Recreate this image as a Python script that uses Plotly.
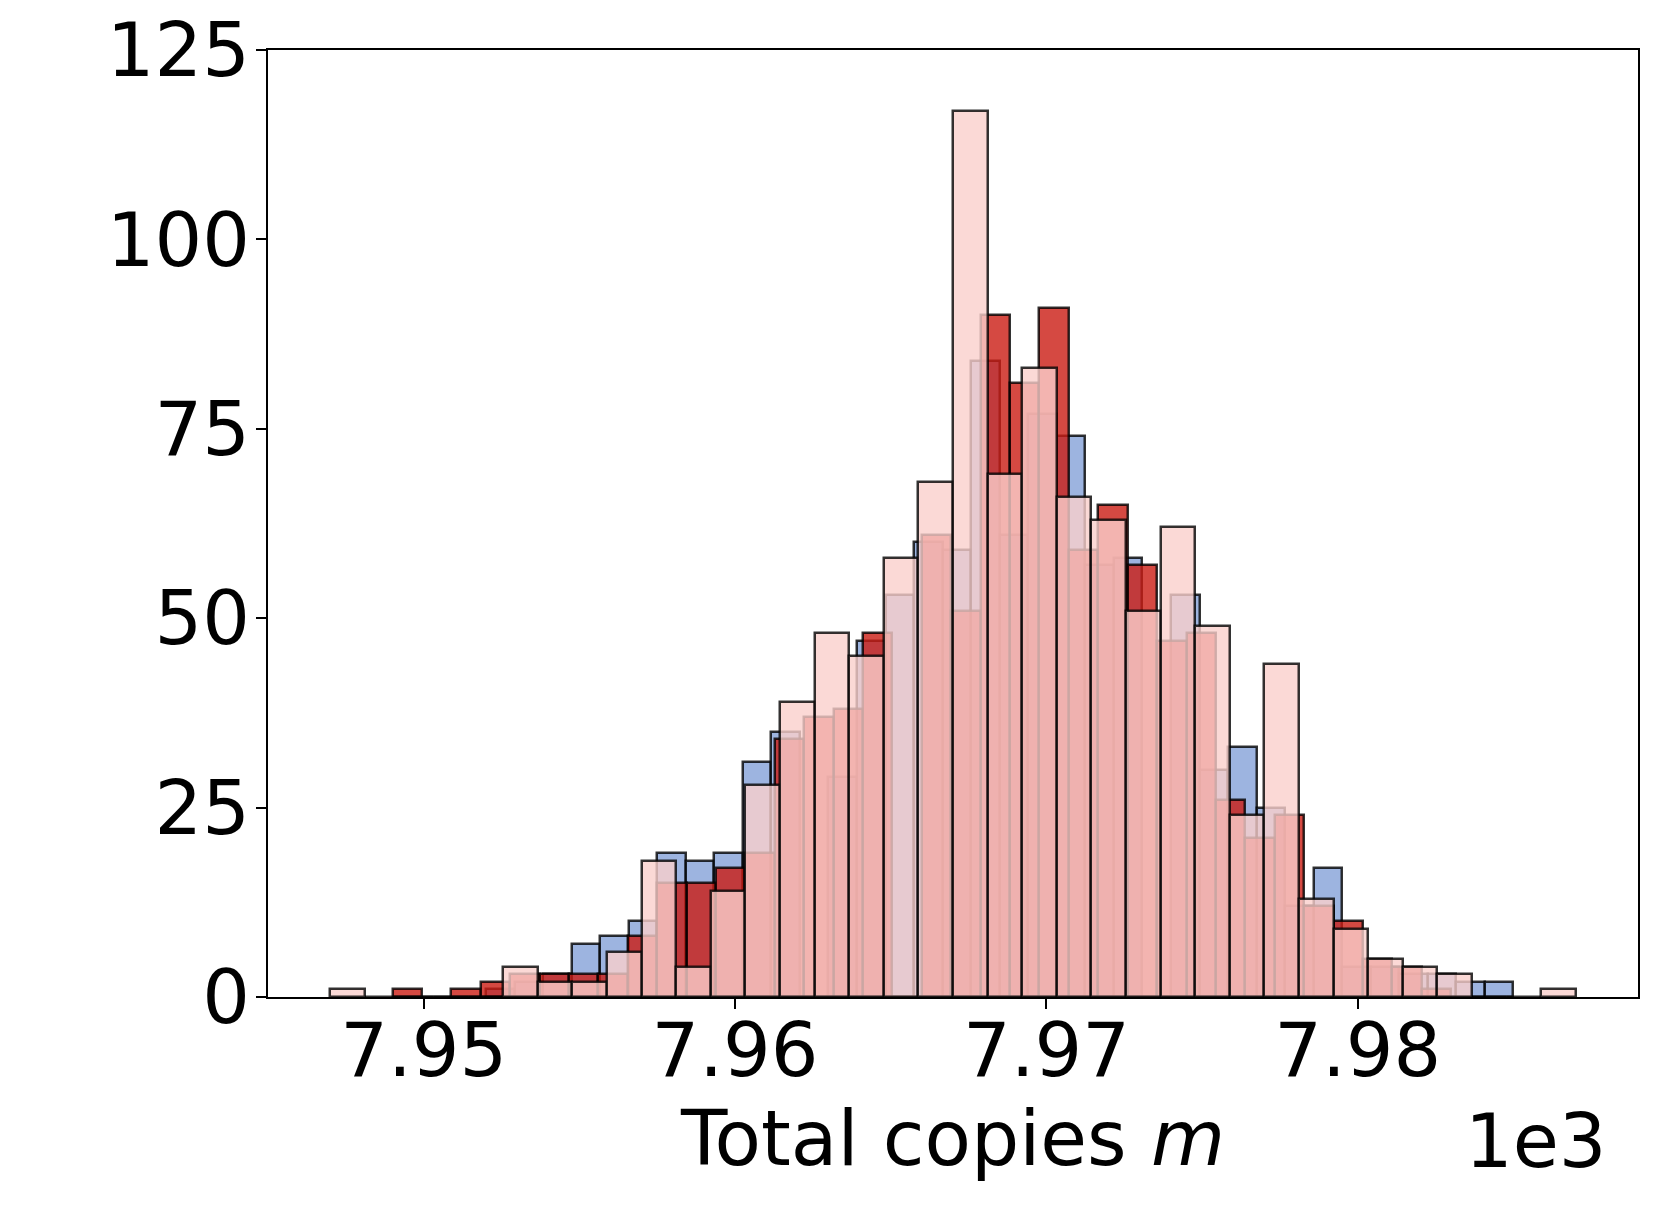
import numpy as np
import plotly.graph_objects as go

# three histograms, 36 bins each, every series over its own min..max
blue_range = (7952, 7985)
red_range = (7949, 7983)
pink_range = (7947, 7987)

blue_counts = [1, 2, 3, 7, 8, 10, 19, 18, 19, 31, 35, 0, 29, 47, 53, 60, 59, 84,
               61, 77, 74, 57, 58, 0, 53, 30, 33, 25, 12, 17, 4, 4, 3, 3, 2, 2]
red_counts = [1, 0, 1, 2, 3, 3, 3, 3, 8, 15, 15, 17, 19, 34, 37, 38, 48, 0,
              61, 51, 90, 81, 91, 59, 65, 57, 47, 48, 26, 21, 24, 12, 10, 5, 4, 1]
pink_counts = [1, 0, 0, 0, 0, 4, 2, 2, 6, 18, 4, 14, 28, 39, 48, 45, 58, 68,
               117, 69, 83, 66, 63, 51, 62, 49, 24, 44, 13, 9, 5, 4, 3, 0, 0, 1]

x_tickvals = [7950, 7960, 7970, 7980]
x_ticktext = ["7.95", "7.96", "7.97", "7.98"]
y_tickvals = [0, 25, 50, 75, 100, 125]

FONT = "DejaVu Sans, Verdana, sans-serif"
FS = 75


def hist_bars(rng, counts, fill):
    edges = np.linspace(rng[0], rng[1], len(counts) + 1)
    return go.Bar(
        x=(edges[:-1] + edges[1:]) / 2,
        y=counts,
        width=np.diff(edges),
        marker=dict(color=fill, line=dict(color="rgba(0,0,0,0.8)", width=2.5)),
        showlegend=False,
        hoverinfo="x+y",
    )


fig = go.Figure()
fig.add_trace(hist_bars(blue_range, blue_counts, "rgba(133,161,216,0.8)"))
fig.add_trace(hist_bars(red_range, red_counts, "rgba(203,28,19,0.8)"))
fig.add_trace(hist_bars(pink_range, pink_counts, "rgba(250,208,204,0.8)"))

lo = min(blue_range[0], red_range[0], pink_range[0])
hi = max(blue_range[1], red_range[1], pink_range[1])
pad = 0.05 * (hi - lo)

axis_common = dict(
    showline=True, linecolor="black", linewidth=2, mirror=True,
    ticks="outside", ticklen=10, tickwidth=2, tickcolor="black",
    showgrid=False, zeroline=False, automargin=False,
    ticklabeloverflow="allow",
    tickfont=dict(family=FONT, size=FS, color="black"),
)

# page body has an 8px margin, so the plot box is pulled up/left by that much
fig.update_layout(
    width=1660, height=1206,
    barmode="overlay",
    bargap=0,
    plot_bgcolor="white",
    paper_bgcolor="white",
    margin=dict(l=260, r=30, t=42, b=217),
    xaxis=dict(
        range=[lo - pad, hi + pad],
        tickvals=x_tickvals, ticktext=x_ticktext,
        ticklabelstandoff=-23,
        title=dict(text="Total copies <i>m</i>", font=dict(family=FONT, size=FS + 1, color="black"), standoff=0),
        **axis_common,
    ),
    yaxis=dict(range=[0, 125], tickvals=y_tickvals, ticklabelstandoff=-9, **axis_common),
    annotations=[dict(
        text="1e3", xref="paper", yref="paper", x=0.979, y=-0.152,
        xanchor="right", yanchor="middle", showarrow=False,
        font=dict(family=FONT, size=FS, color="black"),
    )],
)

fig.write_html("out.html")
